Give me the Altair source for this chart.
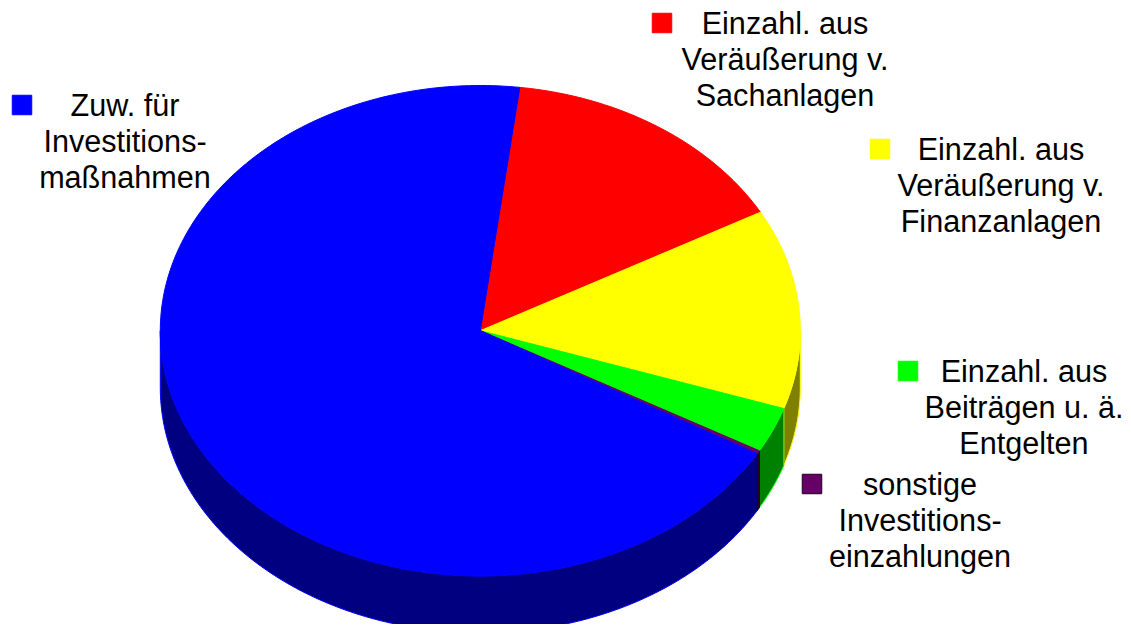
import math
import altair as alt
import pandas as pd

labels = ["Einzahl. aus\nVeräußerung v.\nSachanlagen",
          "Einzahl. aus\nVeräußerung v.\nFinanzanlagen",
          "Einzahl. aus\nBeiträgen u. ä.\nEntgelten",
          "sonstige\nInvestitions-\neinzahlungen",
          "Zuw. für\nInvestitions-\nmaßnahmen"]
values = [15.0, 13.17, 3.0, 0.22, 68.61]
top_colors = ["#ff0000", "#ffff00", "#00ff00", "#660066", "#0000ff"]
wall_colors = ["#800000", "#808000", "#008000", "#330033", "#000080"]
wall_strokes = ["#ff0000", "#ffff00", "#00ff00", "#000000", "#0000ff"]

START_DEG = 7.1
OFF = 8
CX, CY, RX, RY = 480.3, 330.7, 320, 245.2
DEPTH = 57 / RY
LINE_STEP = 36

square_x = [662, 880, 908, 812, 22]
square_y = [23, 149, 371, 484, 105]
text_x = [785, 1001, 1024, 920, 125]
text_y = [25, 151, 373, 486, 107]

x_scale = alt.Scale(domain=[-1, 1], range=[CX - RX - OFF, CX + RX - OFF])
y_scale = alt.Scale(domain=[-1, 1], range=[CY + RY - OFF, CY - RY - OFF])


def arc(a0, a1):
    n = max(2, int(abs(a1 - a0)) + 2)
    out = []
    for k in range(n):
        a = math.radians(a0 + (a1 - a0) * k / (n - 1))
        out.append((math.sin(a), math.cos(a)))
    return out


def poly(points, fill, stroke):
    df = pd.DataFrame(points, columns=["x", "y"])
    df["i"] = range(len(df))
    return alt.Chart(df).mark_line(fill=fill, stroke=stroke, strokeWidth=1, clip=False).encode(
        x=alt.X("x:Q", scale=x_scale, axis=None),
        y=alt.Y("y:Q", scale=y_scale, axis=None),
        order=alt.Order("i:Q"),
    )


angles = []
a = START_DEG
for v in values:
    b = a + v / sum(values) * 360
    angles.append((a, b))
    a = b

layers = []
# walls, far to near: the visible lower half of the cylinder
for idx in [1, 2, 4, 3]:
    a0, a1 = angles[idx]
    lo, hi = max(a0, 90), min(a1, 270)
    if hi <= lo:
        continue
    top = arc(lo, hi)
    bottom = [(px, py - DEPTH) for px, py in reversed(top)]
    pts = top + bottom + [top[0]]
    layers.append(poly(pts, wall_colors[idx], wall_strokes[idx]))

# top face
for idx in range(len(values)):
    a0, a1 = angles[idx]
    pts = [(0, 0)] + arc(a0, a1) + [(0, 0)]
    layers.append(poly(pts, top_colors[idx], top_colors[idx]))

# legend
for idx, lab in enumerate(labels):
    layers.append(alt.Chart(pd.DataFrame({"t": [lab]})).mark_square(
        size=380, color=top_colors[idx], opacity=1, stroke="#1a001a" if idx == 3 else top_colors[idx], strokeWidth=1
    ).encode(x=alt.value(square_x[idx] - OFF), y=alt.value(square_y[idx] - OFF)))
    for k, line in enumerate(lab.split("\n")):
        layers.append(alt.Chart(pd.DataFrame({"t": [line]})).mark_text(
            font="Liberation Sans", fontSize=30.6,
            align="center", baseline="middle", color="#000000"
        ).encode(x=alt.value(text_x[idx] - OFF), y=alt.value(text_y[idx] + k * LINE_STEP - OFF), text="t:N"))

chart = alt.layer(*layers).properties(
    width=1115, height=616, padding=0,
    autosize=alt.AutoSizeParams(type="none"),
).configure_view(stroke=None)

chart.save("out.html", embed_options={"renderer": "svg", "actions": False})
